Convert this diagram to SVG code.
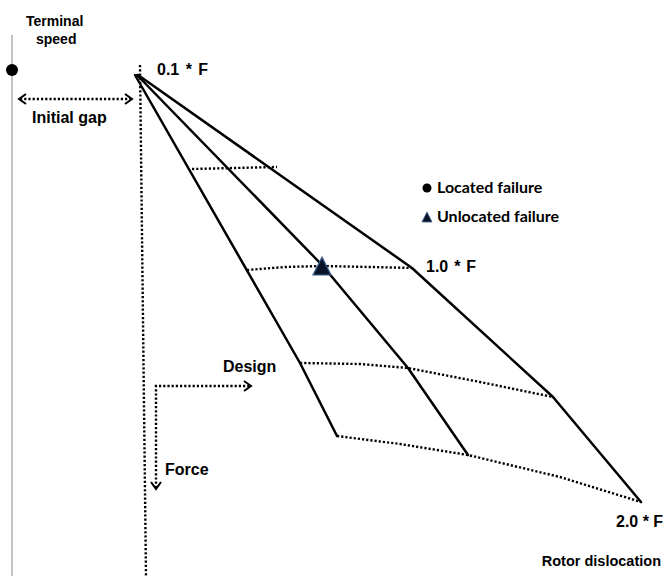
<svg xmlns="http://www.w3.org/2000/svg" width="668" height="576" viewBox="0 0 668 576">
<style>
.t{font-family:"Liberation Sans",Arial,sans-serif;font-weight:bold;fill:#000}
.c{font-family:Lato,"Open Sans",sans-serif;font-weight:bold;fill:#000}
.solid{fill:none;stroke:#000;stroke-width:2.5;stroke-linejoin:round;stroke-linecap:round}
.dot{fill:none;stroke:#000;stroke-width:2.4;stroke-dasharray:2.2 2}
.head{fill:none;stroke:#000;stroke-width:2}
</style>
<rect width="668" height="576" fill="#fff"/>
<g id="axis-speed">
<line x1="12" y1="35" x2="12" y2="576" stroke="#c4c4c4" stroke-width="2"/>
<circle cx="12" cy="70" r="6" fill="#000"/>
<text class="t" x="26" y="26" font-size="14">Terminal</text>
<text class="t" x="36" y="44" font-size="14">speed</text>
</g>
<g id="initial-gap">
<line class="dot" x1="20" y1="99" x2="131" y2="99"/>
<polyline class="head" points="26,94 19,99 26,104"/>
<polyline class="head" points="125,94 132,99 125,104"/>
<text class="t" x="32" y="123" font-size="16">Initial gap</text>
</g>
<g id="connectors">
<line class="dot" x1="140" y1="65" x2="146" y2="576"/>
<polyline class="solid" points="138,75 412,268 553,397 641,502"/>
<polyline class="solid" points="137,75 322,265 408,368 468,455"/>
<polyline class="solid" points="135,75 300,363 337,436"/>
<polyline class="dot" points="192,169 235,168 277,167"/>
<polyline class="dot" points="247,270 285,267 322,266 370,267 412,268"/>
<polyline class="dot" points="300,363 360,364 408,368 480,382 553,397"/>
<polyline class="dot" points="337,436 400,444 468,455 560,477 641,502"/>
</g>
<g id="labels">
<text class="t" x="157" y="75" font-size="16" word-spacing="2">0.1 * F</text>
<text class="t" x="426" y="272" font-size="16" word-spacing="1.5">1.0 * F</text>
<text class="t" x="616" y="527" font-size="16">2.0 * F</text>
<text class="t" x="661" y="566" font-size="14.5" text-anchor="end">Rotor dislocation</text>
</g>
<g id="unlocated-marker">
<polygon points="322,257 331,275 313,275" fill="#0a1428" stroke="#3d5f8f" stroke-width="1.2"/>
</g>
<g id="legend">
<circle cx="427" cy="188" r="4.5" fill="#000"/>
<text class="c" x="437" y="193" font-size="16">Located failure</text>
<polygon points="427,212 432,222 422,222" fill="#0a1428" stroke="#3d5f8f" stroke-width="0.8"/>
<text class="c" x="437" y="222" font-size="16">Unlocated failure</text>
</g>
<g id="design-force">
<polyline class="dot" points="156,488 156,386 250,386"/>
<polyline class="head" points="244,381 251,386 244,391"/>
<polyline class="head" points="151,482 156,489 161,482"/>
<text class="t" x="223" y="372" font-size="16">Design</text>
<text class="t" x="165" y="475" font-size="16">Force</text>
</g>
</svg>
